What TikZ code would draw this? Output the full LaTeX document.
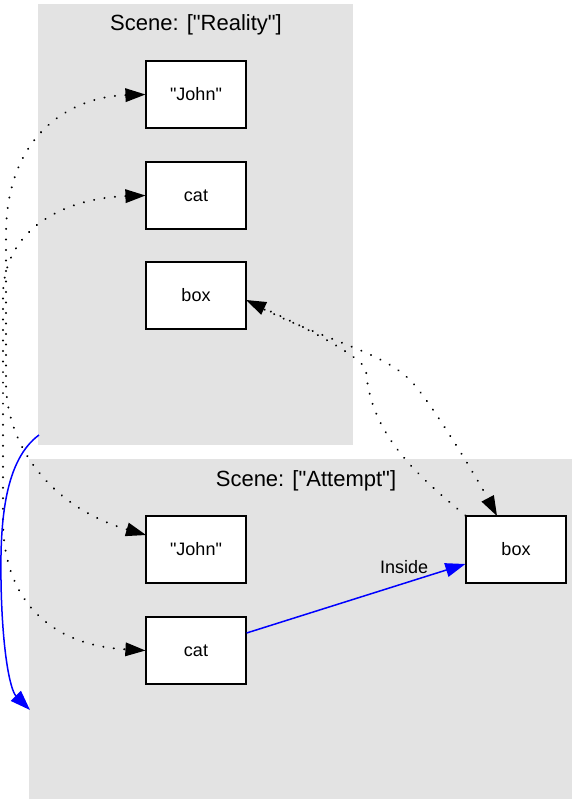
\documentclass[tikz,border=0pt]{standalone}
\usepackage{fontspec}
\setmainfont{Liberation Sans}
\newfontfamily\plainsans{Liberation Sans}
\usetikzlibrary{arrows.meta}
\definecolor{clustergray}{HTML}{E3E3E3}
\begin{document}
\begin{tikzpicture}[x=1pt,y=-1pt,
  cluster/.style={fill=clustergray, draw=none},
  obj/.style={draw=black, line width=1.2pt, fill=white, minimum width=100pt, minimum height=67pt, inner sep=0pt, font=\plainsans\fontsize{18}{20}\selectfont},
  title/.style={font=\plainsans\fontsize{22}{24}\selectfont, inner sep=0pt},
  rel/.style={line width=2.2pt, line cap=round, dash pattern=on 0.01pt off 10.5pt},
  blueedge/.style={draw=blue, line width=1.5pt},
  lbl/.style={font=\plainsans\fontsize{18}{20}\selectfont, inner sep=0pt}]
\useasboundingbox (0,0) rectangle (572,799);
% clusters
\path[cluster] (38,4) rectangle (353,445);
\path[cluster] (29,459) rectangle (572,799);
\node[title] (tR) at (196,25) {Scene: ["Reality"]};
\node[title] (tA) at (306,481) {Scene: ["Attempt"]};
% nodes
\node[obj] (jR) at (196,94.5) {"John"};
\node[obj] (cR) at (196,195.5) {cat};
\node[obj] (bR) at (196,295.5) {box};
\node[obj] (jA) at (196,549.5) {"John"};
\node[obj] (cA) at (196,650.5) {cat};
\node[obj] (bA) at (516,549.5) {box};
% helper coordinates
\coordinate (jAin) at (146,535);
\coordinate (bRe) at (246,300);
\coordinate (bAtop) at (497,516);
\coordinate (clR) at (39,435);
\coordinate (clA) at (30,710);
% dotted relations
\draw[rel, {Triangle[length=20pt, width=14pt, line width=0pt]}-{Triangle[length=20pt, width=14pt, line width=0pt]}]
  (jR.west) .. controls (70,97) and (6,135) .. (6,235) -- (6,385)
  .. controls (8,455) and (60,510) .. (jAin);
\draw[rel, {Triangle[length=20pt, width=14pt, line width=0pt]}-{Triangle[length=20pt, width=14pt, line width=0pt]}]
  (cR.west) .. controls (70,198) and (4,225) .. (3,295) -- (3,520)
  .. controls (3,600) and (50,645) .. (cA.west);
\draw[rel, -{Triangle[length=20pt, width=14pt, line width=0pt]}]
  (bRe) .. controls (320,340) and (380,350) .. (410,380)
  .. controls (430,400) and (478,480) .. (bAtop);
\draw[rel, -{Triangle[length=20pt, width=14pt, line width=0pt]}]
  (bA.north west) .. controls (410,470) and (370,430) .. (366,370)
  .. controls (360,355) and (300,325) .. (bRe);
% blue edges
\draw[blueedge, -{Triangle[length=20pt, width=14pt]}]
  (clR) .. controls (5,460) and (0,520) .. (1,580)
  .. controls (2,650) and (10,690) .. (clA);
\draw[blueedge, -{Triangle[length=20pt, width=14pt]}]
  (cA.east |- 0,633) -- node[lbl, pos=0.72, above=9pt] (ins) {Inside} (bA.west |- 0,564);
\end{tikzpicture}
\end{document}
